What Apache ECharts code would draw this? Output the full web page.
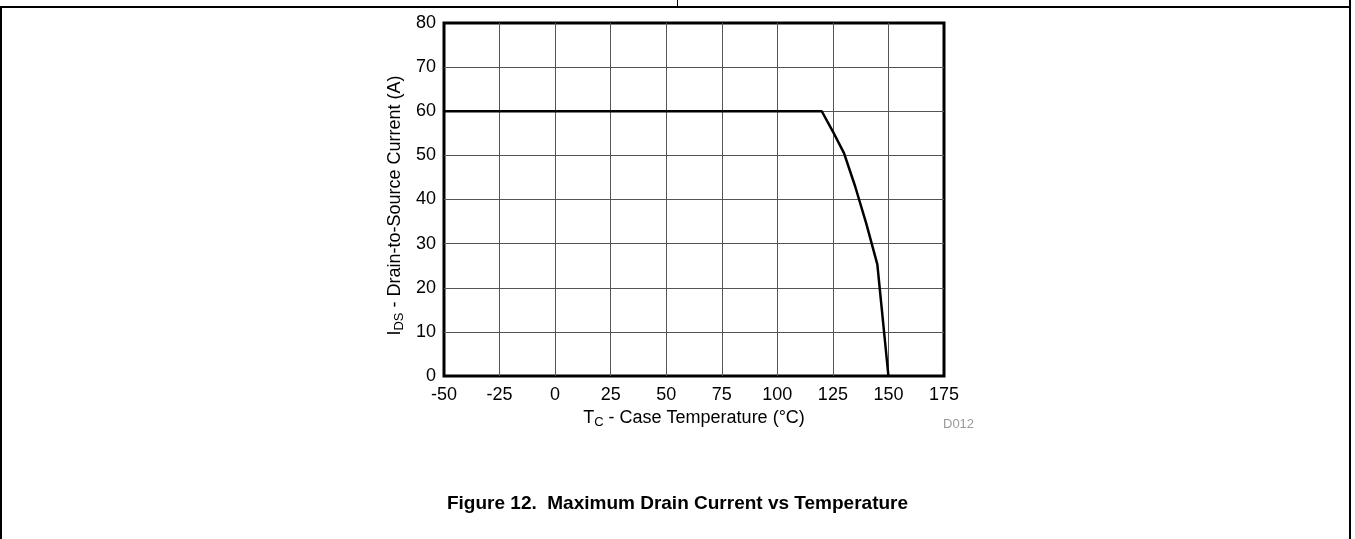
<!DOCTYPE html>
<html>
<head>
<meta charset="utf-8">
<script src="https://cdn.jsdelivr.net/npm/echarts@6/dist/echarts.min.js"></script>
<style>
html,body{margin:0;padding:0;background:#fff;}
#c{width:1355px;height:539px;}
</style>
</head>
<body>
<div id="c"></div>
<script>
// Data
var temperatureC = [-50, 120, 125, 130, 135, 140, 145, 150];
var drainCurrentA = [60, 60, 55.4, 50.5, 43, 34.6, 25.3, 0];
var xTicks = [-50, 175, 25];   // min, max, interval
var yTicks = [0, 80, 10];

var FONT = '"Liberation Sans", Arial, sans-serif';
var chart = echarts.init(document.getElementById('c'), null, {renderer: 'canvas'});
var pts = temperatureC.map(function (t, i) { return [t, drainCurrentA[i]]; });

var richName = {
  a: {fontFamily: FONT, fontSize: 18, color: '#000', lineHeight: 22},
  s: {fontFamily: FONT, fontSize: 13, color: '#000', lineHeight: 6, verticalAlign: 'bottom'}
};

chart.setOption({
  animation: false,
  backgroundColor: '#fff',
  title: {
    text: 'Figure 12.  Maximum Drain Current vs Temperature',
    left: 'center',
    top: 489,
    textStyle: {fontFamily: FONT, fontWeight: 'bold', fontSize: 19, color: '#000'}
  },
  grid: {
    left: 444, top: 23, width: 500, height: 353,
    show: true, borderColor: '#000', borderWidth: 3, backgroundColor: 'transparent'
  },
  xAxis: {
    type: 'value', min: xTicks[0], max: xTicks[1], interval: xTicks[2],
    axisLine: {show: false}, axisTick: {show: false},
    axisLabel: {fontFamily: FONT, fontSize: 18, color: '#000', margin: 10},
    splitLine: {show: true, showMinLine: false, showMaxLine: false, lineStyle: {color: '#555', width: 1}},
    name: '{a|T}{s|C}{a| - Case Temperature (°C)}',
    nameLocation: 'middle', nameGap: 29,
    nameTextStyle: {rich: richName}
  },
  yAxis: {
    type: 'value', min: yTicks[0], max: yTicks[1], interval: yTicks[2],
    axisLine: {show: false}, axisTick: {show: false},
    axisLabel: {fontFamily: FONT, fontSize: 18, color: '#000', margin: 8},
    splitLine: {show: true, showMinLine: false, showMaxLine: false, lineStyle: {color: '#555', width: 1}},
    name: '{a|I}{s|DS}{a| - Drain-to-Source Current (A)}',
    nameLocation: 'middle', nameGap: 38,
    nameTextStyle: {rich: richName, padding: [0, 12, 0, 0]}
  },
  graphic: [
    {type: 'line', shape: {x1: 0, y1: 7, x2: 1351, y2: 7}, style: {stroke: '#000', lineWidth: 2}},
    {type: 'line', shape: {x1: 677.5, y1: 0, x2: 677.5, y2: 7}, style: {stroke: '#000', lineWidth: 1}},
    {type: 'line', shape: {x1: 1350, y1: 0, x2: 1350, y2: 539}, style: {stroke: '#000', lineWidth: 2}},
    {type: 'line', shape: {x1: 1, y1: 7, x2: 1, y2: 539}, style: {stroke: '#000', lineWidth: 2}},
    {type: 'text', left: 943, top: 418, style: {text: 'D012', fill: '#999', font: '13px ' + FONT}}
  ],
  series: [{
    type: 'line',
    data: pts,
    showSymbol: false,
    symbol: 'none',
    lineStyle: {color: '#000', width: 2.5},
    z: 5
  }]
});
</script>
</body>
</html>
